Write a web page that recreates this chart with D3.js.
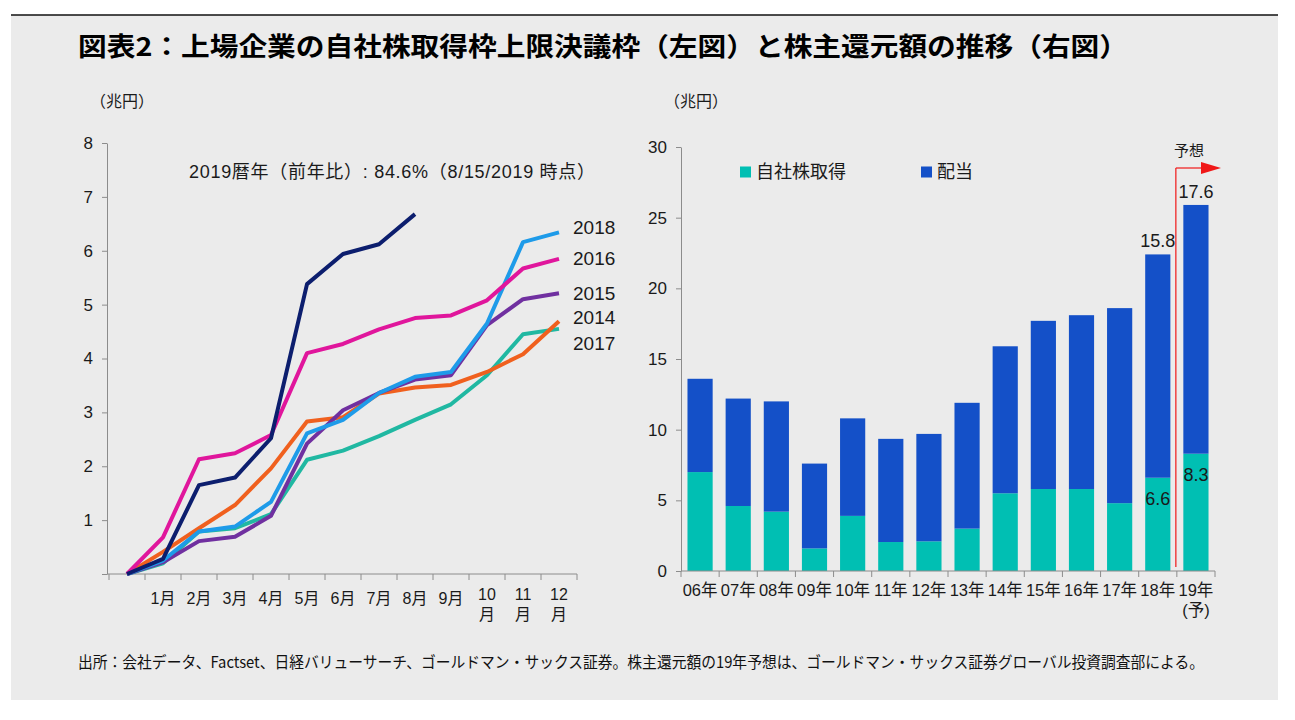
<!DOCTYPE html>
<html>
<head>
<meta charset="utf-8">
<script src="https://cdn.jsdelivr.net/npm/d3@7"></script>
<style>
  body { margin: 0; background: #ffffff; }
  svg { display: block; font-family: "Liberation Sans", "Noto Sans CJK JP", sans-serif; }
  .axis path, .axis line { stroke: #8c8c8c; }
  .axis text { fill: #1a1a1a; font-family: "Liberation Sans", "Noto Sans CJK JP", sans-serif; }
</style>
</head>
<body>
<svg id="chart" width="1295" height="720"></svg>
<script>
// ---- left chart: cumulative buyback authorisation (兆円) ----
const months = ['', '1月', '2月', '3月', '4月', '5月', '6月', '7月', '8月', '9月', '10月', '11月', '12月'];
const s2014 = [0, 0.41, 0.85, 1.28, 1.96, 2.83, 2.91, 3.35, 3.46, 3.51, 3.75, 4.08, 4.69];
const s2015 = [0, 0.22, 0.61, 0.69, 1.08, 2.42, 3.04, 3.36, 3.61, 3.69, 4.62, 5.10, 5.21];
const s2016 = [0, 0.68, 2.13, 2.24, 2.58, 4.10, 4.27, 4.54, 4.75, 4.80, 5.08, 5.67, 5.85];
const s2017 = [0, 0.20, 0.79, 0.85, 1.11, 2.12, 2.29, 2.56, 2.86, 3.15, 3.69, 4.45, 4.55];
const s2018 = [0, 0.25, 0.79, 0.88, 1.34, 2.61, 2.86, 3.36, 3.66, 3.75, 4.65, 6.16, 6.34];
const s2019 = [0, 0.28, 1.65, 1.79, 2.52, 5.38, 5.94, 6.12, 6.68];
const leftTicks = [0, 1, 2, 3, 4, 5, 6, 7, 8];

// ---- right chart: shareholder returns (兆円) ----
const fiscalYears = ['06年', '07年', '08年', '09年', '10年', '11年', '12年', '13年', '14年', '15年', '16年', '17年', '18年', '19年'];
const buyback = [7.0, 4.6, 4.2, 1.6, 3.9, 2.05, 2.1, 3.0, 5.5, 5.8, 5.8, 4.8, 6.6, 8.3];
const dividend = [6.6, 7.6, 7.8, 6.0, 6.9, 7.3, 7.6, 8.9, 10.4, 11.9, 12.3, 13.8, 15.8, 17.6];
const rightTicks = [0, 5, 10, 15, 20, 25, 30];
const labelledYears = ['18年', '19年'];

const svg = d3.select('#chart');
const jpFont = '"Noto Sans CJK JP", sans-serif';

// panel + top rule
svg.append('rect').attr('x', 11).attr('y', 15).attr('width', 1267).attr('height', 685).attr('fill', '#ebebeb');
svg.append('line').attr('x1', 11).attr('x2', 1278).attr('y1', 15).attr('y2', 15)
  .attr('stroke', '#111').attr('stroke-width', 1.5);

svg.append('text')
  .attr('x', 78).attr('y', 56)
  .attr('font-family', jpFont).attr('font-weight', 700).attr('font-size', 26)
  .attr('textLength', 1050).attr('lengthAdjust', 'spacingAndGlyphs')
  .attr('fill', '#000')
  .text('図表2：上場企業の自社株取得枠上限決議枠（左図）と株主還元額の推移（右図）');

svg.append('text')
  .attr('x', 78).attr('y', 668)
  .attr('font-family', jpFont).attr('font-size', 15.5)
  .attr('textLength', 1126).attr('lengthAdjust', 'spacingAndGlyphs')
  .attr('fill', '#111')
  .text('出所：会社データ、Factset、日経バリューサーチ、ゴールドマン・サックス証券。株主還元額の19年予想は、ゴールドマン・サックス証券グローバル投資調査部による。');

// ================= left chart =================
const xL = d3.scaleBand().domain(months).range([109, 577]);
const yL = d3.scaleLinear().domain([0, 8]).range([574, 143]);

const yAxisL = svg.append('g').attr('class', 'axis')
  .attr('transform', 'translate(107,0)')
  .call(d3.axisLeft(yL).tickValues(leftTicks).tickSize(5).tickSizeOuter(0).tickPadding(9)
    .tickFormat(d => d === 0 ? '' : d));
yAxisL.selectAll('text').attr('font-size', 17);

const xAxisL = svg.append('g').attr('class', 'axis')
  .attr('transform', 'translate(0,574)');
xAxisL.append('line').attr('x1', 107).attr('x2', 577).attr('stroke', '#8c8c8c');
xAxisL.selectAll('line.tk')
  .data(d3.range(months.length + 1))
  .join('line').attr('class', 'tk')
  .attr('x1', i => i < months.length ? xL(months[i]) : xL.range()[1])
  .attr('x2', i => i < months.length ? xL(months[i]) : xL.range()[1])
  .attr('y1', 0).attr('y2', 6).attr('stroke', '#8c8c8c');

const monthLbl = xAxisL.selectAll('text.m')
  .data(months.filter(m => m !== ''))
  .join('text').attr('class', 'm')
  .attr('x', d => xL(d) + xL.bandwidth() / 2)
  .attr('y', 30)
  .attr('text-anchor', 'middle')
  .attr('font-size', 16)
  .attr('fill', '#1a1a1a');
monthLbl.each(function (d) {
  const t = d3.select(this);
  const num = d.replace('月', '');
  if (num.length > 1) {
    t.append('tspan').attr('x', xL(d) + xL.bandwidth() / 2).attr('dy', -4).text(num);
    t.append('tspan').attr('x', xL(d) + xL.bandwidth() / 2).attr('dy', 20)
      .attr('font-family', jpFont).text('月');
  } else {
    t.text(d);
  }
});

svg.append('text').attr('x', 90).attr('y', 107)
  .attr('font-family', jpFont).attr('font-size', 16).attr('fill', '#1a1a1a')
  .text('（兆円）');

svg.append('text').attr('x', 189).attr('y', 178)
  .attr('font-size', 18).attr('fill', '#1a1a1a')
  .attr('textLength', 406).attr('lengthAdjust', 'spacing')
  .text('2019暦年（前年比）: 84.6%（8/15/2019 時点）');

const seriesL = [
  { name: '2017', values: s2017, color: '#20b8a2', labelDy: 14 },
  { name: '2014', values: s2014, color: '#f0601e', labelDy: -4 },
  { name: '2015', values: s2015, color: '#7030a0', labelDy: 0 },
  { name: '2018', values: s2018, color: '#1e9be9', labelDy: -5 },
  { name: '2016', values: s2016, color: '#e0169c', labelDy: 0 },
  { name: '2019', values: s2019, color: '#0c1e6e', labelDy: null }
];

const line = d3.line()
  .x((d, i) => xL(months[i]) + xL.bandwidth() / 2)
  .y(d => yL(d));

svg.append('g').selectAll('path')
  .data(seriesL)
  .join('path')
  .attr('d', d => line(d.values))
  .attr('fill', 'none')
  .attr('stroke', d => d.color)
  .attr('stroke-width', 4)
  .attr('stroke-linejoin', 'round');

svg.append('g').selectAll('text')
  .data(seriesL.filter(d => d.labelDy !== null))
  .join('text')
  .attr('x', 573)
  .attr('y', d => yL(d.values[d.values.length - 1]) + d.labelDy)
  .attr('dy', '0.35em')
  .attr('font-size', 19)
  .attr('fill', '#1a1a1a')
  .text(d => d.name);

// ================= right chart =================
const xR = d3.scaleBand().domain(fiscalYears).range([681, 1215]).paddingInner(0.34).paddingOuter(0.17);
const yR = d3.scaleLinear().domain([0, 30]).range([571, 147]);

const yAxisR = svg.append('g').attr('class', 'axis')
  .attr('transform', 'translate(681,0)')
  .call(d3.axisLeft(yR).tickValues(rightTicks).tickSize(5).tickSizeOuter(0).tickPadding(9));
yAxisR.selectAll('text').attr('font-size', 17);

svg.append('text').attr('x', 664).attr('y', 107)
  .attr('font-family', jpFont).attr('font-size', 16).attr('fill', '#1a1a1a')
  .text('（兆円）');

const rows = fiscalYears.map((y, i) => ({ year: y, buyback: buyback[i], dividend: dividend[i] }));
const stack = d3.stack().keys(['buyback', 'dividend'])(rows);
const barColors = { buyback: '#00bfb3', dividend: '#1450c8' };

svg.append('g').selectAll('g')
  .data(stack)
  .join('g')
  .attr('fill', d => barColors[d.key])
  .selectAll('rect')
  .data(d => d)
  .join('rect')
  .attr('x', d => xR(d.data.year))
  .attr('width', xR.bandwidth())
  .attr('y', d => yR(d[1]))
  .attr('height', d => yR(d[0]) - yR(d[1]));

const xAxisR = svg.append('g').attr('class', 'axis').attr('transform', 'translate(0,571)');
xAxisR.append('line').attr('x1', 681).attr('x2', 1215).attr('stroke', '#8c8c8c');
const stepR = xR.step();
xAxisR.selectAll('line.tk')
  .data(d3.range(fiscalYears.length + 1))
  .join('line').attr('class', 'tk')
  .attr('x1', i => 681 + i * stepR).attr('x2', i => 681 + i * stepR)
  .attr('y1', 0).attr('y2', 6).attr('stroke', '#8c8c8c');
xAxisR.selectAll('text.y')
  .data(fiscalYears)
  .join('text').attr('class', 'y')
  .attr('x', d => xR(d) + xR.bandwidth() / 2)
  .attr('y', 25)
  .attr('text-anchor', 'middle')
  .attr('font-size', 16.5)
  .attr('fill', '#1a1a1a')
  .text(d => d);
xAxisR.append('text')
  .attr('x', xR('19年') + xR.bandwidth() / 2)
  .attr('y', 45)
  .attr('text-anchor', 'middle')
  .attr('font-size', 16.5)
  .attr('fill', '#1a1a1a')
  .text('(予)');

// value labels on last two bars
const fmt = d3.format('.1f');
const lab = svg.append('g').attr('font-size', 18).attr('fill', '#1a1a1a').attr('text-anchor', 'middle');
rows.filter(d => labelledYears.includes(d.year)).forEach(d => {
  const cx = xR(d.year) + xR.bandwidth() / 2;
  lab.append('text').attr('x', cx).attr('y', yR(d.buyback + d.dividend) - 7).text(fmt(d.dividend));
  lab.append('text').attr('x', cx).attr('y', yR(d.buyback) + 27).text(fmt(d.buyback));
});

// forecast marker
const fx = xR('19年') - (stepR - xR.bandwidth()) / 2 - 1;
const fy = 168;
svg.append('line').attr('x1', fx).attr('x2', fx).attr('y1', fy).attr('y2', 567)
  .attr('stroke', '#f01818').attr('stroke-width', 1.2);
svg.append('line').attr('x1', fx).attr('x2', 1204).attr('y1', fy).attr('y2', fy)
  .attr('stroke', '#f01818').attr('stroke-width', 1.2);
svg.append('path')
  .attr('d', `M1201,${fy - 6}L1221,${fy}L1201,${fy + 6}Z`)
  .attr('fill', '#f01818');
svg.append('text').attr('x', 1189).attr('y', 156)
  .attr('text-anchor', 'middle')
  .attr('font-family', jpFont).attr('font-size', 15).attr('fill', '#1a1a1a')
  .text('予想');

// legend
const legend = [
  { key: 'buyback', label: '自社株取得', x: 740 },
  { key: 'dividend', label: '配当', x: 921 }
];
const lg = svg.append('g').selectAll('g').data(legend).join('g')
  .attr('transform', d => `translate(${d.x},172)`);
lg.append('rect').attr('x', 0).attr('y', -5.5).attr('width', 11).attr('height', 11)
  .attr('fill', d => barColors[d.key]);
lg.append('text').attr('x', 16).attr('dy', '0.35em')
  .attr('font-family', jpFont).attr('font-size', 18).attr('fill', '#1a1a1a')
  .text(d => d.label);
</script>
</body>
</html>
